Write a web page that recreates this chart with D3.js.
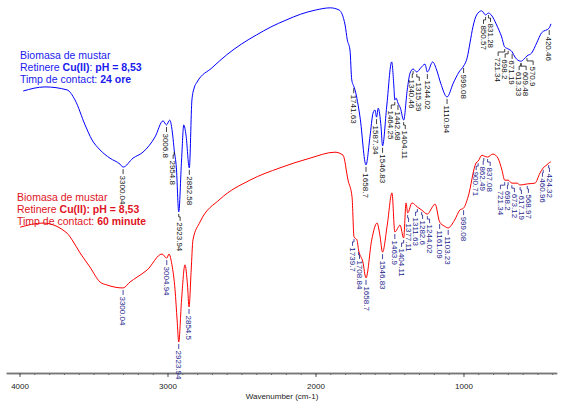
<!DOCTYPE html>
<html>
<head>
<meta charset="utf-8">
<script src="https://cdn.jsdelivr.net/npm/d3@7"></script>
<style>
body { margin: 0; background: #fff; }
text { font-family: "Liberation Sans", Arial, sans-serif; }
</style>
</head>
<body>
<div id="chart-area"></div>
<script>
const WIDTH = 561
const HEIGHT = 401

// 24 ore (blue) - wavenumber (cm-1) and transmittance (a.u.)
const blueWn = [3975, 3828, 3679, 3625, 3557, 3510, 3456, 3389, 3321, 3300.04, 3233, 3166, 3084, 3030, 3006.8, 2985, 2965, 2954.8, 2940, 2923.94, 2905, 2890, 2875, 2852.58, 2835, 2820, 2800, 2700, 2600, 2500, 2400, 2300, 2200, 2100, 2000, 1900, 1840, 1800, 1785, 1767, 1755, 1741.63, 1733, 1699, 1658.7, 1632, 1611, 1598, 1587.34, 1576, 1557, 1546.83, 1519, 1485, 1470, 1464.25, 1455, 1442.68, 1426, 1404.11, 1380, 1361, 1340.46, 1315.39, 1289, 1260, 1244.02, 1208, 1181, 1154, 1110.94, 1069, 1030, 999.08, 975, 956, 936, 911, 877, 850.57, 831.28, 799, 776, 742, 721.34, 698.2, 671.19, 652, 613.33, 609.48, 590, 570.9, 539, 505, 472, 420.46, 409]
const blueT = [75.6, 76.7, 75.9, 73.2, 66.5, 62.5, 59.8, 57.6, 56.0, 55.2, 57.6, 59.2, 63.3, 67.6, 66.5, 67.8, 63.8, 59.8, 55.0, 43.2, 57.1, 66.5, 63.8, 55.0, 73.2, 76.4, 78.0, 81.8, 85.3, 88.2, 90.6, 92.8, 94.6, 96.2, 97.3, 97.9, 97.3, 93.3, 89.3, 86.6, 78.6, 76.9, 75.9, 68.6, 55.8, 63.3, 69.7, 70.5, 68.6, 71.0, 66.0, 60.9, 71.3, 83.4, 76.7, 73.2, 73.7, 72.4, 71.0, 67.8, 75.9, 80.4, 81.5, 80.7, 81.8, 82.8, 80.7, 83.4, 81.2, 77.7, 74.0, 77.7, 80.7, 82.3, 84.5, 88.5, 92.8, 96.0, 97.1, 96.0, 96.5, 95.2, 93.3, 90.1, 87.4, 86.9, 86.1, 84.7, 83.6, 83.6, 84.2, 85.0, 85.8, 88.5, 91.2, 92.5, 93.6]
const bluePeaks = [3300.04, 3006.8, 2954.8, 2923.94, 2852.58, 1741.63, 1658.7, 1587.34, 1546.83, 1464.25, 1442.68, 1404.11, 1340.46, 1315.39, 1244.02, 1110.94, 999.08, 850.57, 831.28, 721.34, 698.2, 671.19, 613.33, 609.48, 570.9, 420.46]

// 60 minute (red)
const redWn = [3995, 3841, 3679, 3645, 3591, 3524, 3456, 3409, 3300.04, 3253, 3206, 3138, 3037, 3004.94, 2990, 2970, 2949, 2935, 2923.94, 2905, 2882, 2865, 2854.5, 2840, 2828, 2780, 2645, 2443, 2240, 2037, 1868, 1814, 1780, 1753, 1739.7, 1720, 1708.84, 1680, 1658.7, 1620, 1584, 1565, 1546.83, 1515, 1483, 1463.9, 1440, 1429, 1404.11, 1388, 1377.11, 1348, 1311.63, 1282.6, 1244.02, 1210, 1192, 1161.09, 1130, 1103.23, 1060, 1024, 999.08, 969, 915, 900.71, 875, 862.49, 837.08, 801, 767, 740, 721.34, 698.2, 673.12, 638, 617.19, 568.97, 517, 483, 460.96, 436, 424.32, 410]
const redT = [39.1, 40.2, 37.5, 35.7, 32.2, 28.4, 24.4, 23.6, 22.8, 24.4, 25.7, 27.6, 31.9, 30.8, 31.9, 29.0, 22.3, 14.2, 8.3, 19.6, 29.0, 23.6, 17.7, 27.6, 35.7, 40.5, 46.6, 51.7, 55.0, 57.6, 59.2, 58.4, 51.7, 47.2, 36.5, 35.7, 33.0, 29.8, 25.5, 35.7, 40.2, 37.0, 32.4, 39.7, 48.3, 37.8, 39.1, 39.7, 36.2, 45.6, 42.9, 45.6, 44.5, 43.7, 42.6, 44.5, 45.3, 40.5, 39.4, 38.9, 41.0, 43.7, 44.2, 47.2, 56.3, 56.8, 58.4, 58.2, 57.9, 58.7, 57.6, 54.4, 51.7, 51.7, 50.9, 50.9, 50.4, 50.7, 50.9, 53.6, 55.0, 55.8, 56.3, 56.6]
const redPeaks = [3300.04, 3004.94, 2923.94, 2854.5, 1739.7, 1708.84, 1658.7, 1546.83, 1463.9, 1404.11, 1377.11, 1311.63, 1282.6, 1244.02, 1161.09, 1103.23, 999.08, 900.71, 862.49, 837.08, 721.34, 698.2, 673.12, 617.19, 568.97, 460.96, 424.32]

const majorTicks = [4000, 3000, 2000, 1000]
const minorTicks = d3.range(400, 4100, 100)

const blueLegend = [
	[["Biomasa de mustar", false]],
	[["Retinere ", false], ["Cu(II)", true], [": ", false], ["pH = 8,53", true]],
	[["Timp de contact: ", false], ["24 ore", true]]
]
const redLegend = [
	[["Biomasa de mustar", false]],
	[["Retinere ", false], ["Cu(II): pH = 8,53", true]],
	[["Timp de contact: ", false], ["60 minute", true]]
]

const svg = d3.select("#chart-area").append("svg")
	.attr("width", WIDTH)
	.attr("height", HEIGHT)

const x = d3.scaleLinear()
	.domain([4090, 370])
	.range([6.2, 556.7])
const y = d3.scaleLinear()
	.domain([0, 100])
	.range([373, 0])

// X Axis - minor ticks then major ticks with labels
const minorAxis = d3.axisBottom(x)
	.tickValues(minorTicks)
	.tickSize(2)
	.tickSizeOuter(0)
	.tickFormat("")
svg.append("g")
	.attr("transform", "translate(0, 373)")
	.call(minorAxis)

const majorAxis = d3.axisBottom(x)
	.tickValues(majorTicks)
	.tickSize(4)
	.tickSizeOuter(0)
	.tickPadding(6)
	.tickFormat(d3.format("d"))
const xAxisG = svg.append("g")
	.attr("transform", "translate(0, 373)")
	.call(majorAxis)
xAxisG.selectAll("text")
	.attr("font-size", "8px")
	.attr("font-family", "Liberation Sans, Arial, sans-serif")
	.attr("fill", "#222")
svg.selectAll(".domain")
	.attr("stroke", "#777")
	.attr("stroke-width", 1.5)
svg.selectAll(".tick line")
	.attr("stroke", "#555")

svg.append("text")
	.attr("x", 282)
	.attr("y", 398.5)
	.attr("text-anchor", "middle")
	.attr("font-size", "8px")
	.attr("fill", "#222")
	.text("Wavenumber (cm-1)")

const line = d3.line()
	.x(d => x(d.wn))
	.y(d => y(d.t))
	.curve(d3.curveMonotoneX)

function spread(items, gap) {
	let clusters = items.map(d => ({ items: [d], x: d.x0 }))
	let merged = true
	while (merged) {
		merged = false
		for (let i = 0; i < clusters.length - 1; i++) {
			const a = clusters[i], b = clusters[i + 1]
			const aEnd = a.x + (a.items.length - 1) * gap / 2
			const bStart = b.x - (b.items.length - 1) * gap / 2
			if (bStart - aEnd < gap) {
				const all = a.items.concat(b.items)
				clusters.splice(i, 2, { items: all, x: d3.mean(all, d => d.x0) })
				merged = true
				break
			}
		}
	}
	clusters.forEach(c => c.items.forEach((d, k) => {
		d.xl = c.x + (k - (c.items.length - 1) / 2) * gap
	}))
}

function drawSpectrum(wns, ts, peaks, lineColor, labelColor) {
	const data = wns.map((wn, i) => ({ wn: wn, t: ts[i] }))
	const lookup = new Map(data.map(d => [d.wn, d.t]))

	svg.append("path")
		.datum(data)
		.attr("fill", "none")
		.attr("stroke", lineColor)
		.attr("stroke-width", 1)
		.attr("d", line)

	const labels = peaks.map(p => ({ wn: p, x0: x(p), y0: y(lookup.get(p)) }))
		.sort((a, b) => a.x0 - b.x0)
	spread(labels, 7)

	const lg = svg.append("g")
	labels.forEach(d => {
		let pts, ty
		if (Math.abs(d.xl - d.x0) < 0.6) {
			pts = [[d.x0, d.y0 + 2], [d.x0, d.y0 + 7]]
			ty = d.y0 + 8.5
		} else {
			pts = [[d.x0, d.y0 + 2], [d.x0, d.y0 + 5], [d.xl, d.y0 + 5], [d.xl, d.y0 + 9]]
			ty = d.y0 + 10.5
		}
		lg.append("path")
			.attr("d", d3.line()(pts))
			.attr("fill", "none")
			.attr("stroke", labelColor)
			.attr("stroke-width", 0.8)
		lg.append("text")
			.attr("transform", `translate(${d.xl}, ${ty}) rotate(90)`)
			.attr("dy", "0.35em")
			.attr("font-size", "8px")
			.attr("fill", labelColor)
			.text(String(d.wn))
	})
}

drawSpectrum(blueWn, blueT, bluePeaks, "#0000ff", "#111")
drawSpectrum(redWn, redT, redPeaks, "#ff0000", "#1a1a8c")

function drawLegend(lines, x0, y0, color) {
	const t = svg.append("text")
		.attr("x", x0)
		.attr("y", y0)
		.attr("font-size", "10.5px")
		.attr("fill", color)
	lines.forEach((segs, i) => {
		segs.forEach((s, j) => {
			const ts = t.append("tspan")
				.attr("font-weight", s[1] ? "bold" : "normal")
				.text(s[0])
			if (j === 0) ts.attr("x", x0).attr("dy", i === 0 ? 0 : "1.12em")
		})
	})
}

drawLegend(blueLegend, 20, 59, "#1a1aee")
drawLegend(redLegend, 17, 201, "#e0141e")
</script>
</body>
</html>
